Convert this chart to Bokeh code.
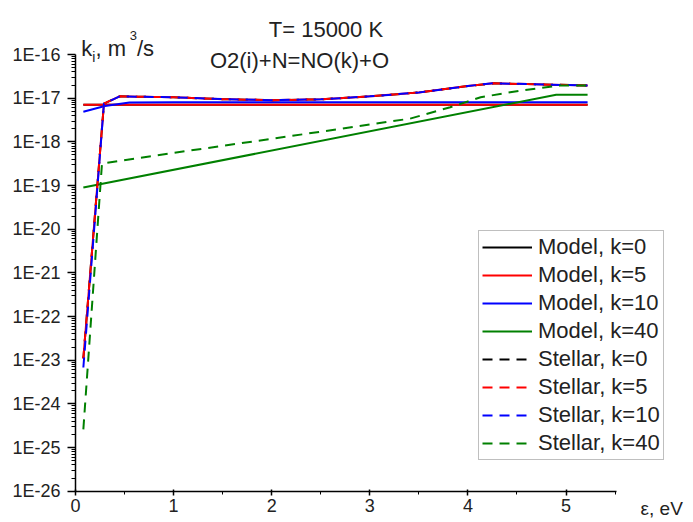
from bokeh.plotting import figure
from bokeh.models import Legend, LegendItem, Label, FixedTicker, CustomJSTickFormatter
from bokeh.embed import file_html
from bokeh.resources import INLINE

# ---- data ----
model_k0_x = [0.08, 5.22]
model_k0_y = [7.1e-18, 7.1e-18]
model_k5_x = [0.08, 5.22]
model_k5_y = [7.1e-18, 7.1e-18]
model_k10_x = [0.08, 0.3, 0.55, 1.0, 2.0, 3.0, 4.0, 5.22]
model_k10_y = [4.9e-18, 6.6e-18, 8.0e-18, 8.1e-18, 8.1e-18, 8.1e-18, 8.1e-18, 8.1e-18]
model_k40_x = [0.08, 4.9, 5.22]
model_k40_y = [9.0e-20, 1.2e-17, 1.2e-17]

stellar_x = [0.08, 0.29, 0.45, 1.0, 1.5, 2.0, 2.5, 3.0, 3.5, 4.0, 4.26, 4.6, 5.22]
stellar_k0_y = [1.1e-23, 7.5e-18, 1.1e-17, 1.05e-17, 9.5e-18, 9.0e-18, 9.4e-18, 1.1e-17, 1.35e-17, 1.9e-17, 2.2e-17, 2.1e-17, 1.95e-17]
stellar_k5_y = [1.1e-23, 7.5e-18, 1.1e-17, 1.05e-17, 9.5e-18, 9.0e-18, 9.4e-18, 1.1e-17, 1.35e-17, 1.9e-17, 2.2e-17, 2.1e-17, 1.95e-17]
stellar_k10_y = [6.8e-24, 7.5e-18, 1.1e-17, 1.05e-17, 9.5e-18, 9.0e-18, 9.4e-18, 1.1e-17, 1.35e-17, 1.9e-17, 2.2e-17, 2.1e-17, 1.95e-17]
stellar_k40_x = [0.08, 0.27, 1.0, 2.0, 3.0, 3.41, 3.82, 4.13, 4.54, 4.94, 5.22]
stellar_k40_y = [2.6e-25, 3.2e-19, 5.6e-19, 1.17e-18, 2.5e-18, 3.4e-18, 6.2e-18, 1.05e-17, 1.5e-17, 1.95e-17, 1.95e-17]

x_major = [0, 1, 2, 3, 4, 5]
x_minor = [0.5, 1.5, 2.5, 3.5, 4.5, 5.5]
x_axis_end = 5.51
decades = list(range(-26, -15))

FONT = "Liberation Sans"

# frame covers the whole canvas; the axes are pinned inside it
W, H = 690, 518
PX_X = 98.1      # pixels per eV
PX_DEC = 43.67   # pixels per decade
X0, Y_TOP, Y_BOT = 75, 54, 490.7
x_start = -X0 / PX_X
x_end = (W - X0) / PX_X
y_top = 10 ** (-16 + Y_TOP / PX_DEC)
y_bot = 10 ** (-26 - (H - Y_BOT) / PX_DEC)

p = figure(width=W, height=H, x_range=(x_start, x_end), y_range=(y_bot, y_top),
           y_axis_type="log", output_backend="svg", toolbar_location=None,
           min_border=0, min_border_left=0, min_border_right=0,
           min_border_top=0, min_border_bottom=0)
p.outline_line_color = None
p.xgrid.visible = False
p.ygrid.visible = False
p.background_fill_color = "white"
p.border_fill_color = "white"

# axes
p.xaxis.fixed_location = 1e-26
p.yaxis.fixed_location = 0
p.xaxis.bounds = (0, x_axis_end)
p.yaxis.bounds = (1e-26, 1e-16)
p.xaxis.ticker = FixedTicker(ticks=x_major, minor_ticks=x_minor)
p.yaxis.ticker = FixedTicker(ticks=[10.0 ** d for d in decades],
                             minor_ticks=[m * 10.0 ** d for d in decades[:-1] for m in range(2, 10)])
p.yaxis.formatter = CustomJSTickFormatter(code="return '1E' + Math.round(Math.log10(tick));")
for ax in (p.xaxis, p.yaxis):
    ax.axis_line_width = 1.5
    ax.axis_line_color = "black"
    ax.major_tick_line_color = "black"
    ax.minor_tick_line_color = "black"
    ax.major_tick_line_width = 1.5
    ax.minor_tick_line_width = 1
    ax.major_label_text_font = FONT
    ax.major_label_text_font_size = "18px"
    ax.major_label_text_color = "#222222"
p.xaxis.major_tick_in = 2
p.xaxis.major_tick_out = 4
p.xaxis.minor_tick_in = 0
p.xaxis.minor_tick_out = 3
p.xaxis.major_label_standoff = 4
p.yaxis.major_tick_in = 0
p.yaxis.major_tick_out = 8
p.yaxis.minor_tick_in = 0
p.yaxis.minor_tick_out = 4
p.yaxis.major_label_standoff = 7

LW = 2
DASH = "10 7"
r_m0 = p.line(model_k0_x, model_k0_y, line_color="black", line_width=LW)
r_m5 = p.line(model_k5_x, model_k5_y, line_color="red", line_width=LW)
r_m10 = p.line(model_k10_x, model_k10_y, line_color="blue", line_width=LW)
r_m40 = p.line(model_k40_x, model_k40_y, line_color="green", line_width=LW)
r_s0 = p.line(stellar_x, stellar_k0_y, line_color="black", line_width=LW, line_dash=DASH)
r_s5 = p.line(stellar_x, stellar_k5_y, line_color="red", line_width=LW, line_dash=DASH)
# same red series again, phase-shifted so it shows between the blue dashes
p.line(stellar_x, stellar_k5_y, line_color="red", line_width=LW, line_dash=DASH, line_dash_offset=8)
r_s10 = p.line(stellar_x, stellar_k10_y, line_color="blue", line_width=LW, line_dash=DASH)
r_s40 = p.line(stellar_k40_x, stellar_k40_y, line_color="green", line_width=LW, line_dash=DASH)

items = [
    LegendItem(label="Model, k=0", renderers=[r_m0]),
    LegendItem(label="Model, k=5", renderers=[r_m5]),
    LegendItem(label="Model, k=10", renderers=[r_m10]),
    LegendItem(label="Model, k=40", renderers=[r_m40]),
    LegendItem(label="Stellar, k=0", renderers=[r_s0]),
    LegendItem(label="Stellar, k=5", renderers=[r_s5]),
    LegendItem(label="Stellar, k=10", renderers=[r_s10]),
    LegendItem(label="Stellar, k=40", renderers=[r_s40]),
]
legend = Legend(items=items, location=(478, H - 459.5), margin=0, padding=3, spacing=2,
                label_height=24, glyph_height=24, glyph_width=50, label_standoff=6,
                label_text_font=FONT, label_text_font_size="22px", label_text_color="#222222",
                border_line_color="#808080", border_line_width=1, background_fill_color="white",
                background_fill_alpha=1)
p.add_layout(legend)

def lab(x, y, text, size, align="left"):
    p.add_layout(Label(x=x, y=y, text=text, text_font=FONT, text_font_size=size,
                       text_align=align, text_baseline="alphabetic", text_color="#222222"))

lab(2.553, 10 ** -15.434, "T= 15000 K", "22px", "center")
lab(2.283, 10 ** -16.137, "O2(i)+N=NO(k)+O", "22px", "center")
lab(0.058, 10 ** -15.87, "k", "22px")
lab(0.170, 10 ** -16.046, "i", "14px")
lab(0.204, 10 ** -15.87, ", m", "22px")
lab(0.552, 10 ** -15.565, "3", "13px")
lab(0.626, 10 ** -15.87, "/s", "22px")
lab(5.76, 10 ** -26.403, "\u03b5, eV", "19px")

open("out.html", "w").write(file_html(p, INLINE))
